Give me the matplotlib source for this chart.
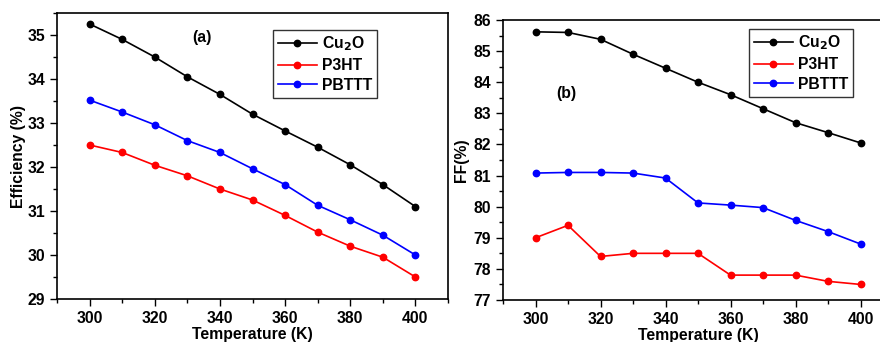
import matplotlib
matplotlib.use("Agg")
from matplotlib import pyplot as plt
from matplotlib.ticker import AutoMinorLocator

plt.rcParams['font.family'] = ['Liberation Sans', 'DejaVu Sans']
plt.rcParams['font.weight'] = 'bold'
plt.rcParams['axes.labelweight'] = 'bold'
plt.rcParams['mathtext.default'] = 'bf'

temp = [300, 310, 320, 330, 340, 350, 360, 370, 380, 390, 400]

eff_cu2o = [35.25, 34.9, 34.5, 34.05, 33.65, 33.2, 32.82, 32.45, 32.05, 31.6, 31.1]
eff_p3ht = [32.5, 32.33, 32.04, 31.8, 31.5, 31.25, 30.9, 30.52, 30.2, 29.95, 29.5]
eff_pbttt = [33.52, 33.25, 32.96, 32.6, 32.33, 31.96, 31.6, 31.13, 30.8, 30.45, 30.0]

ff_cu2o = [85.62, 85.6, 85.38, 84.9, 84.45, 84.0, 83.6, 83.15, 82.7, 82.38, 82.05]
ff_p3ht = [79.0, 79.4, 78.4, 78.5, 78.5, 78.5, 77.8, 77.8, 77.8, 77.6, 77.5]
ff_pbttt = [81.08, 81.1, 81.1, 81.08, 80.92, 80.12, 80.05, 79.97, 79.56, 79.2, 78.8]

names = ['Cu$_2$O', 'P3HT', 'PBTTT']
colors = ['black', '#ff0000', '#0000ff']
fs = 11.3

fig = plt.figure(figsize=(8.8, 3.42), dpi=100)
ax1 = fig.add_axes([57/880, 1-299/342, (448-57)/880, (299-13)/342])
ax2 = fig.add_axes([503/880, 1-300/342, (893-503)/880, (300-20)/342])


def draw(ax, series, ylim, yticks, ylabel, tag, tagpos, legpos, ypad):
    for vals, name, c in zip(series, names, colors):
        ax.plot(temp, vals, '-o', color=c, lw=1.2, ms=4.6, mec=c, mfc=c, label=name)
    ax.set_xlim(290, 410)
    ax.set_ylim(*ylim)
    ax.set_xticks(range(300, 401, 20))
    ax.set_yticks(yticks)
    ax.xaxis.set_minor_locator(AutoMinorLocator(2))
    ax.yaxis.set_minor_locator(AutoMinorLocator(2))
    ax.tick_params(which='both', direction='out', labelsize=fs, width=1)
    ax.tick_params(which='major', length=5)
    ax.tick_params(which='minor', length=3)
    for s in ax.spines.values():
        s.set_linewidth(1.2)
    ax.set_xlabel('Temperature (K)', fontsize=fs, labelpad=1)
    ax.set_ylabel(ylabel, fontsize=fs, labelpad=ypad)
    ax.text(tagpos[0], tagpos[1], tag, fontsize=fs, fontweight='bold',
            ha='center', va='center')
    leg = ax.legend(loc='upper left', bbox_to_anchor=legpos, fontsize=fs,
                    frameon=True, fancybox=False, edgecolor='black',
                    handlelength=2.5, handletextpad=0.3, borderpad=0.3,
                    labelspacing=0.3, borderaxespad=0)
    leg.get_frame().set_linewidth(1.0)


draw(ax1, [eff_cu2o, eff_p3ht, eff_pbttt], (29, 35.5), range(29, 36),
     'Efficiency (%)', '(a)', (334.5, 34.95),
     ((273-57)/(448-57), (299-30)/(299-13)), 1)
draw(ax2, [ff_cu2o, ff_p3ht, ff_pbttt], (77, 86), range(77, 87),
     'FF(%)', '(b)', (309.5, 83.65),
     ((749-503)/(893-503), (300-29)/(300-20)), 3)

fig.savefig('out.png', dpi=100)
